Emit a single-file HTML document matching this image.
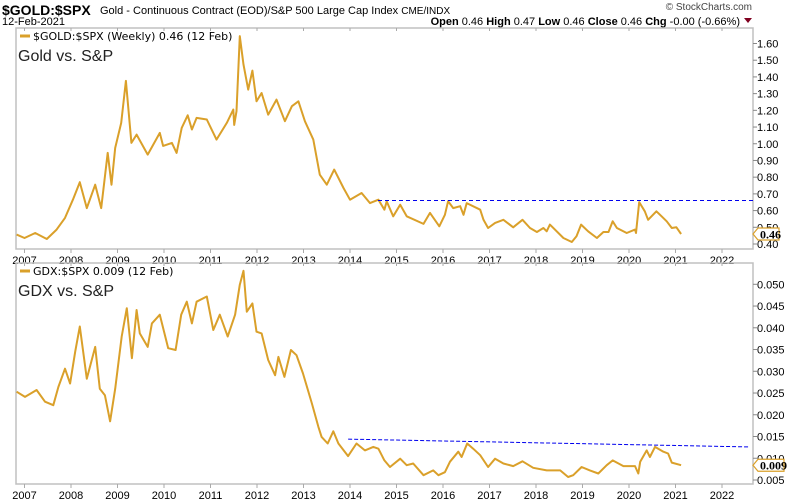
<!DOCTYPE html>
<html><head><meta charset="utf-8"><style>
body{margin:0;background:#fff;width:800px;height:500px;overflow:hidden;font-family:"Liberation Sans",sans-serif}
svg{display:block}
</style></head><body>
<svg id="c" width="800" height="500" font-family="Liberation Sans, sans-serif">
<text x="2" y="15" font-size="14" font-weight="bold">$GOLD:$SPX</text>
<text x="100" y="14" font-size="11">Gold - Continuous Contract (EOD)/S&amp;P 500 Large Cap Index <tspan font-size="10">CME/INDX</tspan></text>
<text x="2" y="25" font-size="11">12-Feb-2021</text>
<text x="752" y="10" font-size="10" fill="#444" text-anchor="end">© StockCharts.com</text>
<text x="740" y="25" font-size="11" text-anchor="end"><tspan font-weight="bold">Open</tspan> 0.46  <tspan font-weight="bold">High</tspan> 0.47  <tspan font-weight="bold">Low</tspan> 0.46  <tspan font-weight="bold">Close</tspan> 0.46  <tspan font-weight="bold">Chg</tspan> -0.00 (-0.66%)</text>
<path d="M744 18 L752 18 L748 23 Z" fill="#800020"/>
<g id="g"></g>
</svg>
<script>
// Gold/SPX data
const goldYears=[2006.83,2007.0,2007.23,2007.48,2007.69,2007.87,2008.04,2008.19,2008.34,2008.52,2008.65,2008.79,2008.87,2008.95,2009.08,2009.18,2009.30,2009.41,2009.65,2009.91,2009.98,2010.17,2010.27,2010.38,2010.51,2010.60,2010.70,2010.92,2011.13,2011.35,2011.49,2011.51,2011.56,2011.63,2011.71,2011.81,2011.90,2011.99,2012.10,2012.24,2012.42,2012.60,2012.75,2012.89,2013.03,2013.21,2013.35,2013.50,2013.66,2013.86,2014.00,2014.25,2014.43,2014.61,2014.74,2014.79,2014.93,2015.08,2015.22,2015.58,2015.72,2015.92,2016.04,2016.11,2016.22,2016.37,2016.44,2016.51,2016.80,2016.87,2016.97,2017.12,2017.30,2017.51,2017.71,2017.87,2018.02,2018.16,2018.23,2018.30,2018.59,2018.77,2018.87,2018.97,2019.12,2019.31,2019.45,2019.56,2019.65,2019.74,2019.95,2020.13,2020.15,2020.22,2020.34,2020.41,2020.59,2020.70,2020.81,2020.92,2021.02,2021.12];
const goldValues=[0.456,0.436,0.466,0.43,0.486,0.556,0.665,0.77,0.615,0.755,0.615,0.945,0.755,0.975,1.125,1.376,1.005,1.055,0.935,1.065,0.987,1.005,0.945,1.095,1.17,1.085,1.155,1.145,1.025,1.125,1.205,1.113,1.195,1.644,1.474,1.324,1.438,1.254,1.304,1.174,1.264,1.135,1.225,1.254,1.135,1.025,0.815,0.755,0.845,0.735,0.665,0.705,0.645,0.665,0.605,0.655,0.566,0.635,0.566,0.52,0.586,0.506,0.575,0.656,0.615,0.626,0.575,0.645,0.605,0.545,0.496,0.526,0.545,0.50,0.545,0.496,0.472,0.496,0.476,0.516,0.436,0.412,0.446,0.516,0.476,0.436,0.472,0.472,0.536,0.496,0.466,0.486,0.466,0.651,0.596,0.545,0.596,0.566,0.536,0.496,0.50,0.46];
const goldTicks=[1.6,1.5,1.4,1.3,1.2,1.1,1.0,0.9,0.8,0.7,0.6,0.5,0.4];
const goldResistance=0.66;
// GDX/SPX data
const gdxYears=[2006.83,2007.01,2007.26,2007.44,2007.62,2007.73,2007.87,2007.98,2008.09,2008.19,2008.34,2008.52,2008.62,2008.73,2008.84,2008.95,2009.09,2009.20,2009.31,2009.41,2009.48,2009.65,2009.74,2009.91,2010.09,2010.25,2010.37,2010.49,2010.60,2010.70,2010.92,2011.06,2011.20,2011.37,2011.53,2011.63,2011.71,2011.78,2011.90,2011.99,2012.10,2012.24,2012.39,2012.46,2012.59,2012.73,2012.85,2012.99,2013.18,2013.32,2013.39,2013.52,2013.64,2013.75,2013.96,2014.14,2014.32,2014.50,2014.61,2014.74,2014.86,2015.08,2015.22,2015.36,2015.58,2015.79,2015.90,2016.04,2016.15,2016.33,2016.40,2016.52,2016.65,2016.80,2016.97,2017.12,2017.30,2017.51,2017.71,2017.94,2018.23,2018.52,2018.69,2018.80,2018.98,2019.16,2019.34,2019.52,2019.65,2019.88,2020.13,2020.20,2020.24,2020.38,2020.45,2020.56,2020.74,2020.84,2020.92,2021.12];
const gdxValues=[0.0253,0.0241,0.0257,0.023,0.0222,0.0264,0.0306,0.0272,0.0345,0.0403,0.0283,0.0356,0.026,0.0245,0.0185,0.026,0.038,0.0445,0.033,0.0441,0.0387,0.0356,0.041,0.043,0.0353,0.0349,0.043,0.046,0.041,0.046,0.0472,0.0395,0.043,0.038,0.043,0.0499,0.0531,0.0437,0.0456,0.0391,0.0387,0.0326,0.0291,0.0333,0.0287,0.0349,0.0337,0.0295,0.0226,0.0172,0.0149,0.0134,0.0162,0.0134,0.0105,0.0134,0.0118,0.0126,0.0122,0.0095,0.008,0.0099,0.0084,0.0088,0.0061,0.0072,0.0061,0.0068,0.0092,0.0115,0.0103,0.0134,0.0122,0.0107,0.008,0.0099,0.0088,0.0082,0.0093,0.0078,0.0072,0.0072,0.0057,0.0061,0.008,0.0072,0.0065,0.0084,0.0095,0.0082,0.0082,0.0065,0.0092,0.0118,0.0103,0.0126,0.0115,0.0111,0.009,0.0084];
const gdxTicks=[0.05,0.045,0.04,0.035,0.03,0.025,0.02,0.015,0.01,0.005];
const gdxTrendYears=[2013.96,2022.60];
const gdxTrendValues=[0.0144,0.0126];
const yearLabels=[2007,2008,2009,2010,2011,2012,2013,2014,2015,2016,2017,2018,2019,2020,2021,2022];

const NS='http://www.w3.org/2000/svg';
const G=document.getElementById('g');
function mk(t,a,p){const e=document.createElementNS(NS,t);for(const k in a)e.setAttribute(k,a[k]);(p||G).appendChild(e);return e;}
const L=16,R=753;
const xs=y=>24.5+(y-2007)*46.5;

function panel(top,bot,v0,y0,v1,y1,ticks,fmt,years,vals,name,legend,title,last,lastTxt,tagW){
  const ys=v=>y0+(v-v0)*(y1-y0)/(v1-v0);
  const fr=mk('rect',{x:L,y:top,width:R-L,height:bot-top,fill:'none',stroke:'#c0c0c0','stroke-width':1.5});
  
  
  ticks.forEach(t=>{
    const ln=mk('line',{x1:R,x2:R+4,y1:ys(t),y2:ys(t),stroke:'#888'});
    
    
    const tx=mk('text',{x:R+4,y:ys(t)+4,'font-size':11});
    tx.textContent=fmt(t);
    
    
  });
  yearLabels.forEach(yr=>{
    const ln=mk('line',{x1:xs(yr),x2:xs(yr),y1:bot,y2:bot+4,stroke:'#aaa'});
    
    
    const ln2=mk('line',{x1:xs(yr),x2:xs(yr),y1:top,y2:top+3,stroke:'#aaa'});
    
    
    const tx=mk('text',{x:xs(yr),y:bot+15,'font-size':11,'text-anchor':'middle'});
    tx.textContent=yr;
    
    
  });
  const d=years.map((y,i)=>(i?'L':'M')+xs(y).toFixed(1)+' '+ys(vals[i]).toFixed(1)).join(' ');
  const p=mk('path',{d:d,fill:'none',stroke:'#daa02a','stroke-width':2,'stroke-linejoin':'round'});
  
  
  const lg=mk('line',{x1:20,x2:30,y1:top+8,y2:top+8,stroke:'#daa02a','stroke-width':3});
  
  
  const lt=mk('text',{x:33,y:top+12,'font-size':11,'font-family':'DejaVu Sans, sans-serif'});
  lt.textContent=legend;
  
  
  const tt=mk('text',{x:18,y:top+33,'font-size':16,fill:'#222'});
  tt.textContent=title;
  
  
  const ty=ys(last);
  const tg=mk('path',{d:`M${R} ${ty} L${R+5} ${ty-6} L${R+5+tagW} ${ty-6} L${R+5+tagW} ${ty+6} L${R+5} ${ty+6} Z`,fill:'#fff',stroke:'#daa02a','stroke-width':1.2});
  
  
  const tv=mk('text',{x:R+7,y:ty+4.5,'font-size':12,'font-weight':'bold','font-family':'Liberation Serif, serif'});
  tv.textContent=lastTxt;
  
  
  return ys;
}
const ysG=panel(28,249,1.6,43.5,0.4,244,goldTicks,t=>t.toFixed(2),goldYears,goldValues,'gold-panel','$GOLD:$SPX (Weekly) 0.46 (12 Feb)','Gold vs. S&P',goldValues[goldValues.length-1],'0.46',21);
const rl=mk('line',{x1:378,x2:R,y1:ysG(goldResistance),y2:ysG(goldResistance),stroke:'#0000ee','stroke-dasharray':'4 3'});


const ysD=panel(263,484,0.05,284.3,0.005,480,gdxTicks,t=>t.toFixed(3),gdxYears,gdxValues,'gdx-panel','GDX:$SPX 0.009 (12 Feb)','GDX vs. S&P',gdxValues[gdxValues.length-1],'0.009',26);
const tl=mk('line',{x1:xs(gdxTrendYears[0]),x2:xs(gdxTrendYears[1]),y1:ysD(gdxTrendValues[0]),y2:ysD(gdxTrendValues[1]),stroke:'#0000ee','stroke-dasharray':'4 2'});


</script>
</body></html>
